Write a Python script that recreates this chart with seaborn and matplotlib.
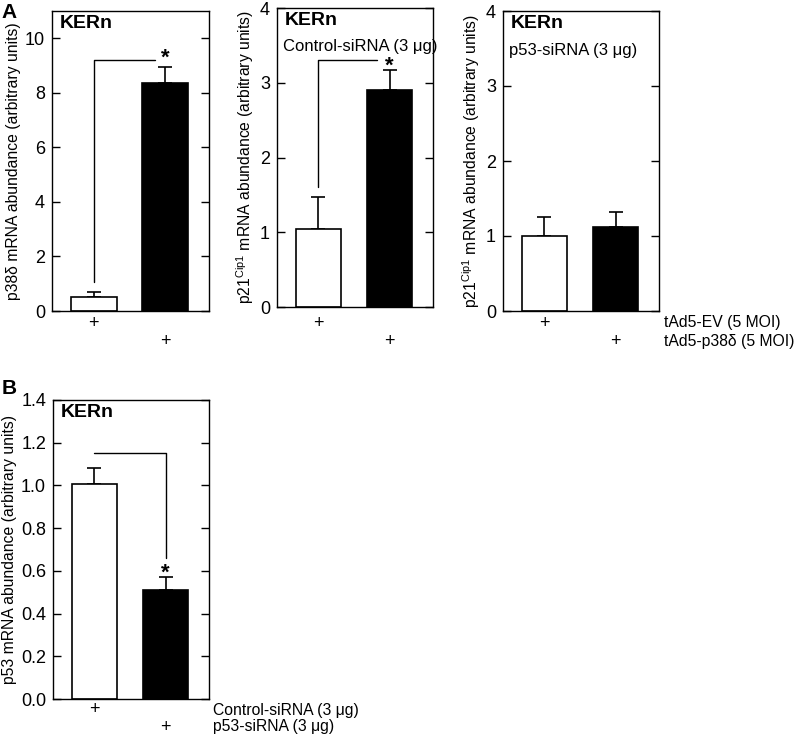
import numpy as np
import pandas as pd
import matplotlib
matplotlib.use('Agg')
import matplotlib.pyplot as plt
from matplotlib.ticker import FormatStrFormatter
import seaborn as sns

sns.set_theme(style='ticks')
plt.rcParams.update({
    'font.family': ['Liberation Sans', 'DejaVu Sans'],
    'mathtext.fontset': 'custom',
    'mathtext.rm': 'Liberation Sans',
    'text.color': 'black',
    'axes.labelcolor': 'black',
    'axes.linewidth': 1.0,
    'axes.edgecolor': 'black',
    'xtick.color': 'black',
    'ytick.color': 'black',
    'ytick.labelsize': 13,
    'axes.labelsize': 11.3,
})

# --- data ---
groups = ['ctrl', 'treat']
a1_mean = [0.50, 8.35]
a1_err = [0.18, 0.60]
a2_mean = [1.05, 2.90]
a2_err = [0.42, 0.27]
a3_mean = [1.00, 1.12]
a3_err = [0.25, 0.20]
b_mean = [1.005, 0.51]
b_err = [0.075, 0.06]

a_rows = ['tAd5-EV (5 MOI)', 'tAd5-p38\u03b4 (5 MOI)']
b_rows = ['Control-siRNA (3 \u03bcg)', 'p53-siRNA (3 \u03bcg)']

W, H = 800, 742
fig = plt.figure(figsize=(W / 100, H / 100), dpi=100)


def px_axes(l, r, t, b):
    return fig.add_axes([l / W, (H - b) / H, (r - l) / W, (b - t) / H])


def panel(ax, means, errs, ymax, yticks, ylabel, subtitle=None, fmt='%g'):
    df = pd.DataFrame({'g': groups, 'v': means})
    sns.barplot(data=df, x='g', y='v', hue='g', palette=['white', 'black'],
                edgecolor='black', linewidth=1.2, width=0.64, legend=False,
                errorbar=None, ax=ax, zorder=2)
    x = np.arange(len(means))
    ax.errorbar(x, means, yerr=[np.zeros(len(errs)), errs], fmt='none',
                ecolor='black', elinewidth=1.2, capsize=5, capthick=1.2, zorder=1)
    ax.set_xlim(-0.58, 1.61)
    ax.set_ylim(0, ymax)
    ax.set_yticks(yticks)
    ax.yaxis.set_major_formatter(FormatStrFormatter(fmt))
    ax.set_xticks([])
    ax.set_xlabel('')
    ax.set_ylabel(ylabel, labelpad=3)
    ax.tick_params(axis='y', direction='in', length=6, width=1, right=True, pad=5)
    for s in ax.spines.values():
        s.set_visible(True)
        s.set_linewidth(1.0)
    ax.text(0.05, 0.985, 'KERn', transform=ax.transAxes, fontsize=14,
            fontweight='bold', va='top', ha='left')
    if subtitle:
        ax.text(0.04, 0.895, subtitle, transform=ax.transAxes, fontsize=12,
                va='top', ha='left')


def star(ax, means, errs, gap_px):
    ax.annotate('*', xy=(1, means[1] + errs[1]), xytext=(0, gap_px),
                textcoords='offset pixels', ha='center', va='center',
                fontsize=16, fontweight='bold')


def plus_marks(ax, offsets_px):
    for i, off in enumerate(offsets_px):
        ax.annotate('+', xy=(i, 0), xycoords=('data', 'axes fraction'),
                    xytext=(0, -off), textcoords='offset pixels',
                    ha='center', va='center', fontsize=13, annotation_clip=False)


# ---- Panel A1 ----
ax1 = px_axes(52, 209, 11, 311)
panel(ax1, a1_mean, a1_err, 11, [0, 2, 4, 6, 8, 10],
      'p38\u03b4 mRNA abundance (arbitrary units)')
ax1.plot([0, 0, 0.85], [1.05, 9.2, 9.2], color='black', lw=1.0)
star(ax1, a1_mean, a1_err, 9)
plus_marks(ax1, (12, 30))

# ---- Panel A2 ----
ax2 = px_axes(277, 433, 8, 307)
panel(ax2, a2_mean, a2_err, 4, [0, 1, 2, 3, 4],
      'p21$^{\\mathrm{Cip1}}$ mRNA abundance (arbitrary units)',
      'Control-siRNA (3 \u03bcg)')
ax2.plot([0, 0, 0.83], [1.6, 3.31, 3.31], color='black', lw=1.0)
star(ax2, a2_mean, a2_err, 4)
plus_marks(ax2, (16, 34))

# ---- Panel A3 ----
ax3 = px_axes(503, 659, 11, 311)
panel(ax3, a3_mean, a3_err, 4, [0, 1, 2, 3, 4],
      'p21$^{\\mathrm{Cip1}}$ mRNA abundance (arbitrary units)',
      'p53-siRNA (3 \u03bcg)')
plus_marks(ax3, (12, 30))

# ---- Panel B ----
axb = px_axes(53, 209, 400, 699)
panel(axb, b_mean, b_err, 1.4, np.arange(0, 1.41, 0.2),
      'p53 mRNA abundance (arbitrary units)', fmt='%.1f')
axb.plot([0, 1, 1], [1.15, 1.15, 0.66], color='black', lw=1.0)
star(axb, b_mean, b_err, 4)
plus_marks(axb, (11, 28))

# condition labels at the right of the "+" rows
for rows, x_px, y_px in [(a_rows, 664, (323, 341)), (b_rows, 213, (710, 727))]:
    for lab, yp in zip(rows, y_px):
        fig.text(x_px / W, 1 - yp / H, lab, ha='left', va='center', fontsize=11.3)

fig.text(1 / W, 1 - 12 / H, 'A', fontsize=15, fontweight='bold', ha='left', va='center')
fig.text(2 / W, 1 - 389 / H, 'B', fontsize=15, fontweight='bold', ha='left', va='center')

fig.savefig('out.png', dpi=100)
